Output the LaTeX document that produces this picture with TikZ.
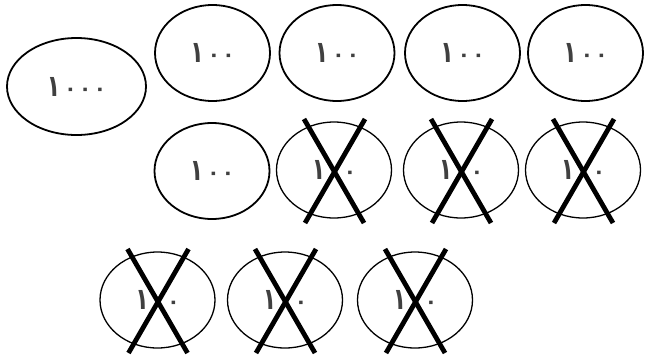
\documentclass[tikz,border=0pt]{standalone}
\usepackage{fontspec}
\usepackage{graphicx}
\newfontfamily\arabicfont[Script=Arabic]{DejaVu Sans}
\usetikzlibrary{shapes.geometric,calc}
\tikzset{
  coin/.style={ellipse, draw=black, line width=1.8pt, minimum width=115pt, minimum height=96pt, inner sep=0pt,
    font=\arabicfont\bfseries\fontsize{20}{20}\selectfont, text=black!75},
  spentcoin/.style={coin, line width=1.3pt},
  bigcoin/.style={coin, minimum width=139pt, minimum height=97pt},
  crossbar/.style={line width=4.8pt, black}
}
\newcommand{\onedigit}{\raisebox{-1pt}{\scalebox{1.1}[1.5]{\char"0661}}}
\newcommand{\zerodigit}{\hspace{2.5pt}\char"0660}
\newcommand{\hundred}{\onedigit\hspace{1.5pt}\zerodigit\zerodigit}
\newcommand{\thousand}{\onedigit\hspace{1.5pt}\zerodigit\zerodigit\zerodigit}
\newcommand{\crossout}[1]{%
  \draw[crossbar] ($(#1.center)+(-30,-51)$) -- ($(#1.center)+(30,53)$);
  \draw[crossbar] ($(#1.center)+(31,-51)$) -- ($(#1.center)+(-29,53)$);}
\begin{document}
\begin{tikzpicture}[x=1pt,y=-1pt]
\useasboundingbox (0,0) rectangle (645,360);
\node[bigcoin] (big) at (76.5,86.5) {\thousand};
\node[coin] (a1) at (212.5,53) {\hundred};
\node[coin] (a2) at (337,53) {\hundred};
\node[coin] (a3) at (462.5,53) {\hundred};
\node[coin] (a4) at (585.5,53) {\hundred};
\node[coin] (b1) at (212,171) {\hundred};
\node[spentcoin] (b2) at (334,170) {\hundred};
\node[spentcoin] (b3) at (461,170) {\hundred};
\node[spentcoin] (b4) at (583,170) {\hundred};
\node[spentcoin] (c1) at (157.5,300) {\hundred};
\node[spentcoin] (c2) at (285,300) {\hundred};
\node[spentcoin] (c3) at (415,300) {\hundred};
\crossout{b2}
\crossout{b3}
\crossout{b4}
\crossout{c1}
\crossout{c2}
\crossout{c3}
\end{tikzpicture}
\end{document}
